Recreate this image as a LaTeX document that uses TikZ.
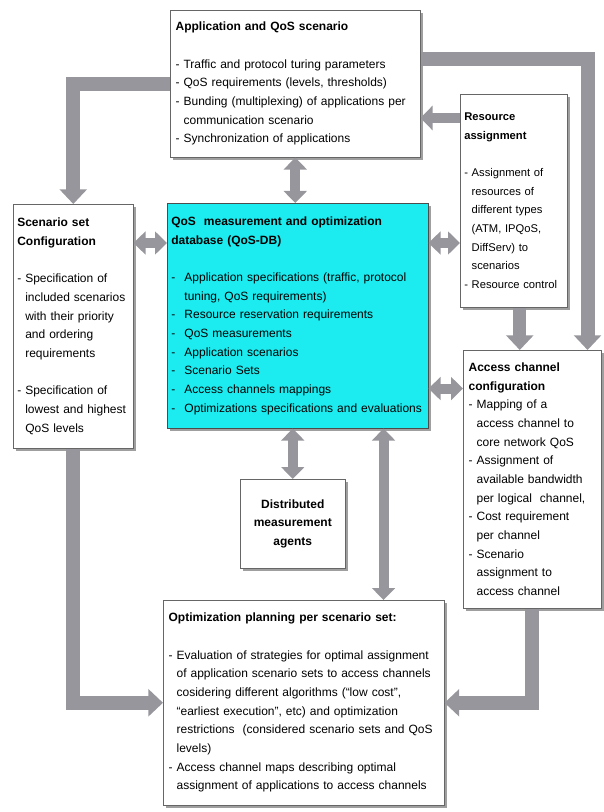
\documentclass[tikz,border=0pt]{standalone}
\usepackage{fontspec}
\setmainfont{Liberation Sans}
\usetikzlibrary{positioning,calc,arrows.meta,shadows}
\definecolor{dbcyan}{RGB}{28,236,240}
\definecolor{arrowgray}{RGB}{150,150,156}
\hyphenpenalty=10000
\exhyphenpenalty=10000
\newcommand{\ind}{\phantom{- }}
\newcommand{\li}{\makebox[1.1em][l]{-}}
\newcommand{\lind}{\hspace*{1.1em}}
\begin{document}
\begin{tikzpicture}[x=0.75pt,y=-0.75pt,
      box/.style = {draw=gray!80!black, fill=white, align=left, anchor=north west,
        inner xsep=4pt, inner ysep=2pt, font=\fontsize{9}{14}\selectfont,
        drop shadow={shadow xshift=2pt, shadow yshift=-2pt, fill=gray!75, opacity=1}},
      dbbox/.style = {box, fill=dbcyan, draw=gray!60!black},
      big/.style = {draw=arrowgray, line width=10.5pt, -{Triangle[width=20pt,length=11pt]}},
      thin/.style = {big, line width=7.5pt, -{Triangle[width=18pt,length=9pt]}},
      dbl/.style = {draw=arrowgray, line width=7.5pt,
        {Triangle[width=17pt,length=9pt]}-{Triangle[width=17pt,length=9pt]}}
      ]
      \useasboundingbox (0,0) rectangle (603,812);

      \node[box, text width=179.5pt, minimum height=110.25pt] (app) at (170,10)
        {\textbf{Application and QoS scenario}\\[\baselineskip]
         - Traffic and protocol turing parameters\\
         - QoS requirements (levels, thresholds)\\
         - Bunding (multiplexing) of applications per\\
         \ind communication scenario\\
         - Synchronization of applications};
      \node[box, inner xsep=3pt, text width=74.25pt, minimum height=159.75pt,
        font=\fontsize{8.4}{14}\selectfont] (res) at (460,94)
        {\textbf{Resource}\\ \textbf{assignment}\\[\baselineskip]
         - Assignment of\\ \ind resources of\\ \ind different types\\
         \ind (ATM, IPQoS,\\ \ind DiffServ) to\\ \ind scenarios\\
         - Resource control};
      \node[box, inner xsep=3pt, text width=84pt, minimum height=183pt] (scen) at (13,204)
        {\textbf{Scenario set}\\ \textbf{Configuration}\\[\baselineskip]
         - Specification of\\ \ind included scenarios\\ \ind with their priority\\
         \ind and ordering\\ \ind requirements\\[\baselineskip]
         - Specification of\\ \ind lowest and highest\\ \ind QoS levels};
      \node[dbbox, inner xsep=3pt, text width=189.75pt, minimum height=168.75pt] (db) at (167,203)
        {\textbf{QoS\ \ measurement and optimization}\\ \textbf{database (QoS-DB)}\\[\baselineskip]
         \li Application specifications (traffic, protocol\\
         \lind tuning, QoS requirements)\\
         \li Resource reservation requirements\\
         \li QoS measurements\\
         \li Application scenarios\\
         \li Scenario Sets\\
         \li Access channels mappings\\
         \li Optimizations specifications and evaluations};
      \node[box, text width=95.5pt, minimum height=193.5pt] (acc) at (463,350)
        {\textbf{Access channel}\\ \textbf{configuration}\\
         - Mapping of a\\ \ind access channel to\\ \ind core network QoS\\
         - Assignment of\\ \ind available bandwidth\\ \ind per logical\ \ channel,\\
         - Cost requirement\\ \ind per channel\\
         - Scenario\\ \ind assignment to\\ \ind access channel};
      \node[box, align=center, text width=70.75pt, minimum height=66.75pt,
        font=\fontsize{9}{14}\selectfont\bfseries] (dist) at (240,479)
        {Distributed\\ measurement\\ agents};
      \node[box, text width=202.75pt, minimum height=153.75pt] (bot) at (163,600)
        {\textbf{Optimization planning per scenario set:}\\[\baselineskip]
         - Evaluation of strategies for optimal assignment\\
         \ind of application scenario sets to access channels\\
         \ind cosidering different algorithms (``low cost'',\\
         \ind ``earliest execution'', etc) and optimization\\
         \ind restrictions\ \ (considered scenario sets and QoS\\
         \ind levels)\\
         - Access channel maps describing optimal\\
         \ind assignment of applications to access channels};

      % feeds between the boxes
      \coordinate (tr) at ($(app.east)+(0,-25)$);
      \coordinate (ra) at ($(res.north west)+(0,24)$);
      \coordinate (rb) at ($(res.south)+(6,0)$);
      \coordinate (ar) at ($(acc.north east)+(-14,0)$);
      \draw[big] (app.west) -| (scen.north);
      \draw[big] (tr) -| (ar);
      \draw[thin] (ra) -- (ra -| app.east);
      \draw[big, line width=10pt] (rb) -- (rb |- acc.north);
      \draw[big] (scen.south) |- (bot.west);
      \draw[big] (acc.south) |- (bot.east);

      % exchange with the database
      \coordinate (dbt) at ($(db.north)+(0,40)$);
      \coordinate (dbb) at ($(db.south)+(0,-40)$);
      \coordinate (dbr) at ($(db.south east)+(-45,0)$);
      \draw[dbl] (app.south) -- (app.south |- db.north);
      \draw[dbl] (scen.east |- dbt) -- (db.west |- dbt);
      \draw[dbl] (db.east |- dbt) -- (res.west |- dbt);
      \draw[dbl] (db.east |- dbb) -- (acc.west |- dbb);
      \draw[dbl] (db.south -| dist.north) -- (dist.north);
      \draw[dbl] (dbr) -- (dbr |- bot.north);
\end{tikzpicture}
\end{document}
